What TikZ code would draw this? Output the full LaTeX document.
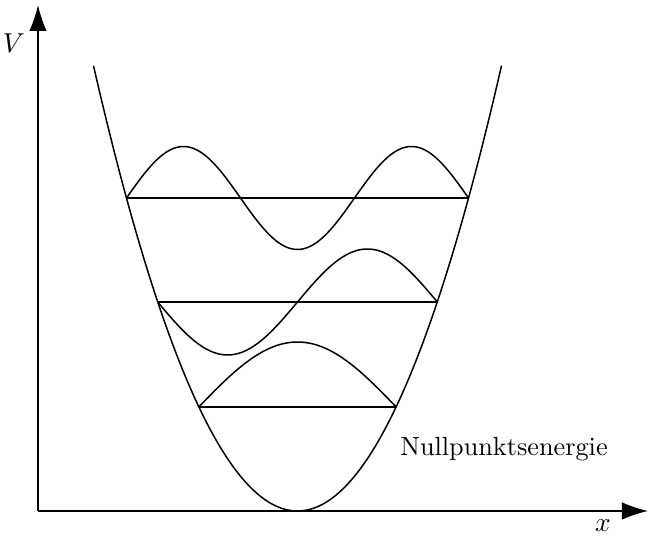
\documentclass[tikz,border=0pt]{standalone}
\usetikzlibrary{arrows.meta}
\begin{document}
\begin{tikzpicture}[x=0.4pt,y=-0.4pt,line width=0.6pt,
  axis/.style={-{Latex[length=10.4pt,width=7pt]}},
  lbl/.style={inner sep=0pt,font=\fontsize{10.5}{12}\selectfont},
  curve/.style={smooth,samples=80}]
\useasboundingbox (0,0) rectangle (649,537);
% axes
\coordinate (O) at (38,511);
\coordinate (Ytip) at (38,5);
\coordinate (Xtip) at (648,511);
\draw[axis] (O) -- (Ytip);
\draw[axis] (O) -- (Xtip);
\node[lbl] (V) at (14,43) {$V$};
\node[lbl] (X) at (603,526) {$x$};
% potential
\draw[curve,domain=-204:204,samples=120] plot ({297.5+\x},{511-107*(\x/100)^2});
% energy levels
\coordinate (L1a) at (198.8,407); \coordinate (L1b) at (396.2,407);
\coordinate (L2a) at (157.7,302); \coordinate (L2b) at (437.3,302);
\coordinate (L3a) at (126.5,198); \coordinate (L3b) at (468.5,198);
\draw (L1a) -- (L1b);
\draw (L2a) -- (L2b);
\draw (L3a) -- (L3b);
% wavefunctions
\draw[curve,domain=0:1] plot ({198.8+197.4*\x},{407-65*sin(180*\x)});
\draw[curve,domain=0:1] plot ({157.7+279.6*\x},{302+53*sin(360*\x)});
\draw[curve,domain=0:1,samples=120] plot ({126.5+342*\x},{198-51.5*sin(540*\x)});
\node[lbl] (N) at (504,449) {Nullpunktsenergie};
\end{tikzpicture}
\end{document}
